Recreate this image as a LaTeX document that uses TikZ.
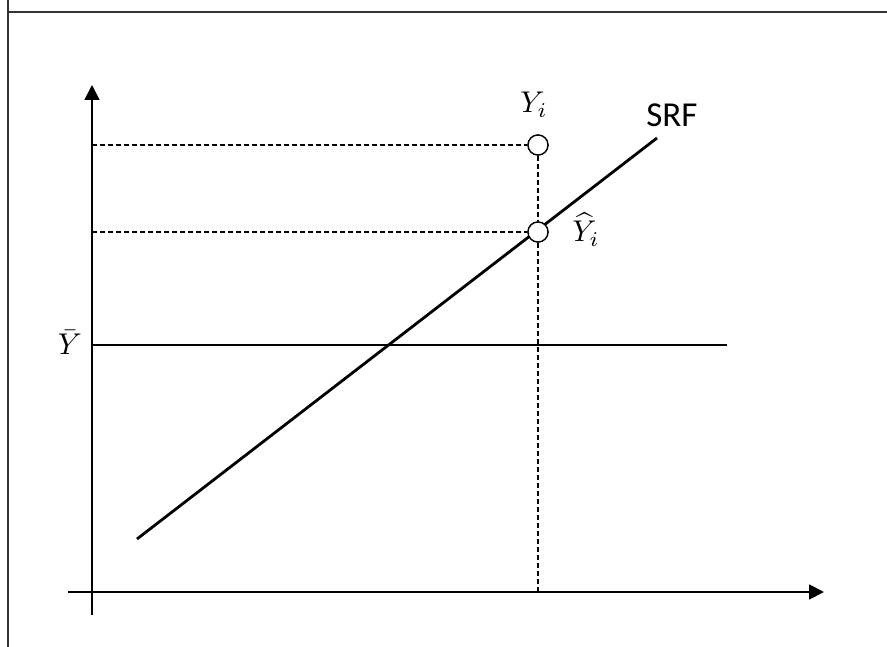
\documentclass[tikz,border=0pt]{standalone}
\usepackage{fontspec}
\newfontfamily\labelfont{Carlito}
\usetikzlibrary{arrows.meta}
\begin{document}
\begin{tikzpicture}[x=1pt,y=-1pt,
  axis/.style={line width=1.8pt,-{Triangle[length=15pt,width=15pt]}},
  guide/.style={line width=1.4pt,dash pattern=on 5pt off 3pt},
  mainline/.style={line width=2.8pt},
  meanline/.style={line width=2.5pt},
  frameline/.style={line width=2.5pt,draw=black!80},
  pt/.style={circle,draw,line width=1.3pt,fill=white,minimum size=20pt,inner sep=0pt},
  mathlbl/.style={inner sep=0pt,anchor=base,scale=3},
  txtlbl/.style={inner sep=0pt,anchor=base,font=\labelfont\fontsize{35}{42}\selectfont}]
\useasboundingbox (0,0) rectangle (887,647);
% frame
\coordinate (fl) at (8,0);
\coordinate (flb) at (8,647);
\coordinate (ft) at (8,12);
\coordinate (ftr) at (887,12);
\draw[frameline] (fl) -- (flb);
\draw[frameline] (ft) -- (ftr);
% axes
\coordinate (yb) at (92,615);
\coordinate (yt) at (92,85);
\coordinate (xl) at (68,592);
\coordinate (xr) at (824,592);
\draw[axis] (yb) -- (yt);
\draw[axis] (xl) -- (xr);
% mean line
\coordinate (ybl) at (92,345);
\coordinate (ybr) at (727,345);
\draw[meanline] (ybl) -- (ybr);
\node[mathlbl] (ybar) at (70,355) {$\bar{Y}$};
% SRF
\coordinate (s1) at (137,539);
\coordinate (s2) at (657,138);
\draw[mainline] (s1) -- (s2);
\node[txtlbl] (srf) at (672,127) {SRF};
% guides
\coordinate (g1) at (92,145);
\coordinate (g2) at (92,232);
\coordinate (gx) at (538,592);
\node[pt] (yi) at (538,145) {};
\node[pt] (yh) at (538,232) {};
\draw[guide] (g1) -- (yi.west);
\draw[guide] (g2) -- (yh.west);
\draw[guide] (yi.south) -- (yh.north);
\draw[guide] (yh.south) -- (gx);
\node[pt] at (yh) {};
\node[pt] at (yi) {};
\node[mathlbl] (lyi) at (534,113) {$Y_i$};
\node[mathlbl] (lyh) at (586,242) {$\widehat{Y}_i$};
\end{tikzpicture}
\end{document}
